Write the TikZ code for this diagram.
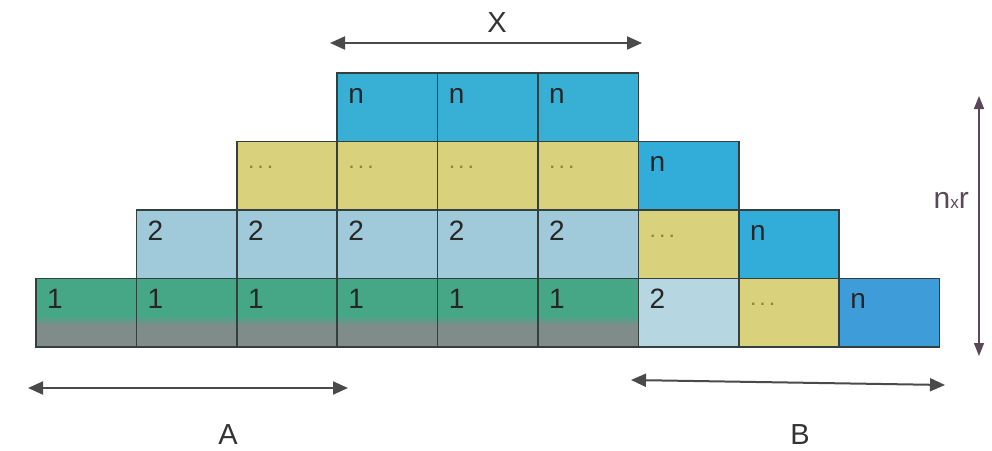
\documentclass[tikz,border=0pt]{standalone}
\usepackage{fontspec}
\setmainfont{Liberation Sans}
\usetikzlibrary{arrows.meta,calc}
\definecolor{cellborder}{HTML}{34403F}
\definecolor{topblue}{HTML}{38B0D6}
\definecolor{midblue}{HTML}{32ACD8}
\definecolor{lowblue}{HTML}{3E9DD8}
\definecolor{paleblue}{HTML}{A0CAD9}
\definecolor{paleblueb}{HTML}{B6D6E2}
\definecolor{sand}{HTML}{D9D17C}
\definecolor{greentop}{HTML}{46A787}
\definecolor{graybot}{HTML}{808C8A}
\definecolor{dotcol}{HTML}{8C8440}
\definecolor{arrowgray}{HTML}{4A4A4A}
\definecolor{vertcol}{HTML}{5A4858}
\tikzset{
  cellbox/.style={draw=cellborder, line width=1.5pt, minimum width=100.4pt, minimum height=68.5pt, anchor=north west, inner sep=0pt, outer sep=0pt},
  greencell/.style={cellbox, fill=greentop, path picture={
      \fill[graybot] (path picture bounding box.south west) rectangle ($(path picture bounding box.east)+(0,12)$);
      \shade[top color=greentop, bottom color=graybot] ($(path picture bounding box.west)+(0,3)$) rectangle ($(path picture bounding box.east)+(0,12.5)$);}},
  celltxt/.style={anchor=base west, inner sep=0pt, font=\fontsize{28}{30}\selectfont, text=black!85},
  dotstxt/.style={anchor=base west, inner sep=0pt, font=\fontsize{16}{16}\selectfont\bfseries, text=dotcol},
  dimarrow/.style={draw=arrowgray, line width=2pt, {Triangle[length=15pt,width=13pt]}-{Triangle[length=15pt,width=13pt]}},
  vertarrow/.style={draw=vertcol, line width=1.6pt, {Triangle[length=13pt,width=10pt]}-{Triangle[length=13pt,width=10pt]}},
  dimlabel/.style={inner sep=0pt, font=\fontsize{29}{30}\selectfont, text=black!80}
}
\newcommand{\colx}[1]{36+100.4*#1}
\newcommand{\rowy}[1]{73+68.5*#1}
\begin{document}
\begin{tikzpicture}[x=1pt, y=-1pt]
\useasboundingbox (0,0) rectangle (992,450);
% bottom row: green cells "1"
\foreach \i in {0,...,5}{
  \node[greencell] (a\i) at ({\colx{\i}},{\rowy{3}}) {};
  \node[celltxt] (ta\i) at ($(a\i.north west)+(11,30)$) {1};
}
\node[cellbox, fill=paleblueb] (a6) at ({\colx{6}},{\rowy{3}}) {};
\node[celltxt] (ta6) at ($(a6.north west)+(11,30)$) {2};
\node[cellbox, fill=sand] (a7) at ({\colx{7}},{\rowy{3}}) {};
\node[dotstxt] (ta7) at ($(a7.north west)+(12,27)$) {.\hspace{5pt}.\hspace{5pt}.};
\node[cellbox, fill=lowblue] (a8) at ({\colx{8}},{\rowy{3}}) {};
\node[celltxt] (ta8) at ($(a8.north west)+(11,30)$) {n};
% second row: "2"
\foreach \i in {1,...,5}{
  \node[cellbox, fill=paleblue] (b\i) at ({\colx{\i}},{\rowy{2}}) {};
  \node[celltxt] (tb\i) at ($(b\i.north west)+(11,30)$) {2};
}
\node[cellbox, fill=sand] (b6) at ({\colx{6}},{\rowy{2}}) {};
\node[dotstxt] (tb6) at ($(b6.north west)+(12,27)$) {.\hspace{5pt}.\hspace{5pt}.};
\node[cellbox, fill=midblue] (b7) at ({\colx{7}},{\rowy{2}}) {};
\node[celltxt] (tb7) at ($(b7.north west)+(11,30)$) {n};
% third row: dots
\foreach \i in {2,...,5}{
  \node[cellbox, fill=sand] (c\i) at ({\colx{\i}},{\rowy{1}}) {};
  \node[dotstxt] (tc\i) at ($(c\i.north west)+(12,27)$) {.\hspace{5pt}.\hspace{5pt}.};
}
\node[cellbox, fill=midblue] (c6) at ({\colx{6}},{\rowy{1}}) {};
\node[celltxt] (tc6) at ($(c6.north west)+(11,30)$) {n};
% top row: n
\foreach \i in {3,...,5}{
  \node[cellbox, fill=topblue] (d\i) at ({\colx{\i}},{\rowy{0}}) {};
  \node[celltxt] (td\i) at ($(d\i.north west)+(11,30)$) {n};
}
% dimension arrows
\coordinate (xl) at (330,43);
\coordinate (xr) at (642,43);
\draw[dimarrow] (xl) -- (xr);
\node[dimlabel] (xlab) at (497,23) {X};
\coordinate (al) at (28,388);
\coordinate (ar) at (348,388);
\draw[dimarrow] (al) -- (ar);
\node[dimlabel] (alab) at (228,435) {A};
\coordinate (bl) at (631,380);
\coordinate (br) at (945,385);
\draw[dimarrow] (bl) -- (br);
\node[dimlabel] (blab) at (800,435) {B};
\coordinate (vt) at (979,96);
\coordinate (vb) at (979,356);
\draw[vertarrow] (vt) -- (vb);
\node[anchor=base east, inner sep=0pt, font=\fontsize{30}{30}\selectfont, text=vertcol] (nlab) at (969,208) {n\raisebox{0pt}{\fontsize{17}{17}\selectfont x}r};
\end{tikzpicture}
\end{document}
